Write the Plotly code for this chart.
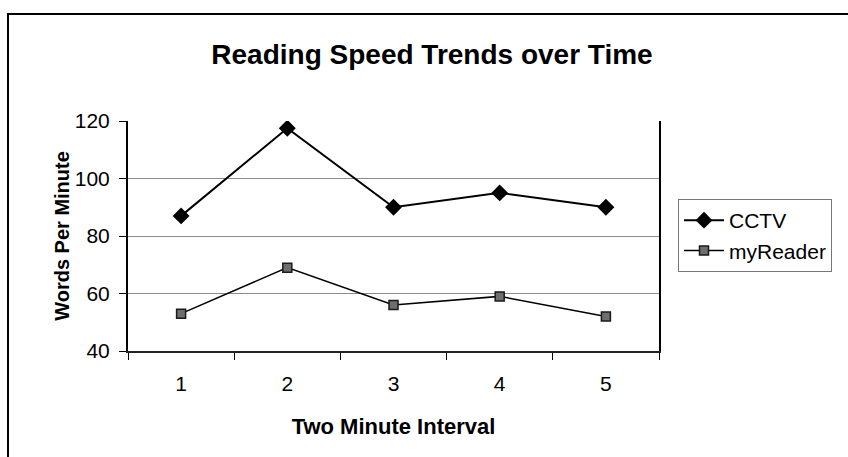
import plotly.graph_objects as go

intervals = ["1", "2", "3", "4", "5"]
cctv = [87, 117.5, 90, 95, 90]
myreader = [53, 69, 56, 59, 52]
y_ticks = [40, 60, 80, 100, 120]

W, H = 848, 457
L, R, T, B = 128, 659, 121, 351

def px(x):
    return (x - L) / (R - L)

def py(y):
    return 1 - (y - T) / (B - T)

FONT = "Liberation Sans, Arial, sans-serif"

fig = go.Figure()
fig.add_trace(go.Scatter(
    x=intervals, y=cctv, name="CCTV", mode="lines+markers",
    line=dict(color="black", width=2),
    marker=dict(symbol="diamond", size=13, color="black"),
))
fig.add_trace(go.Scatter(
    x=intervals, y=myreader, name="myReader", mode="lines+markers",
    line=dict(color="black", width=1.5),
    marker=dict(symbol="square", size=9, color="#6e6e6e",
                line=dict(color="#1a1a1a", width=1.5)),
))

fig.update_layout(
    width=W, height=H,
    margin=dict(l=L, r=W - R, t=T, b=H - B, autoexpand=False),
    paper_bgcolor="white", plot_bgcolor="white",
    font=dict(family=FONT, color="black", size=20),
    title=dict(
        text="Reading Speed Trends over Time",
        font=dict(size=28, weight="bold", family=FONT, color="black"),
        x=px(432), xref="paper", xanchor="center",
        y=1 - 54 / H, yref="container", yanchor="middle",
    ),
    showlegend=True,
    legend=dict(
        x=px(678), y=py(199), xanchor="left", yanchor="top",
        bordercolor="#777", borderwidth=1, bgcolor="white",
        font=dict(size=21, family=FONT),
        itemwidth=40, tracegroupgap=0,
    ),
    xaxis=dict(
        type="category", range=[-0.5, 4.5], tickson="boundaries",
        ticks="outside", ticklen=7, tickwidth=1, tickcolor="black",
        showline=True, linecolor="#222", linewidth=2,
        showgrid=False, ticklabelstandoff=13,
        tickfont=dict(size=21),
        title=dict(text="Two Minute Interval", standoff=24,
                   font=dict(size=22, weight="bold")),
    ),
    yaxis=dict(
        range=[40, 120], tickvals=y_ticks,
        ticks="outside", ticklen=7, tickwidth=1, tickcolor="black",
        showline=True, linecolor="black", linewidth=2, mirror=True,
        showgrid=True, gridcolor="#8c8c8c", gridwidth=1,
        zeroline=False, ticklabelstandoff=5,
        tickfont=dict(size=21),
        title=dict(text="Words Per Minute", standoff=0,
                   font=dict(size=20, weight="bold")),
    ),
    shapes=[dict(
        type="rect", xref="paper", yref="paper",
        x0=px(8), x1=px(860), y0=py(470), y1=py(14),
        line=dict(color="black", width=2), fillcolor="rgba(0,0,0,0)",
        layer="above",
    )],
)

fig.write_html("out.html")
